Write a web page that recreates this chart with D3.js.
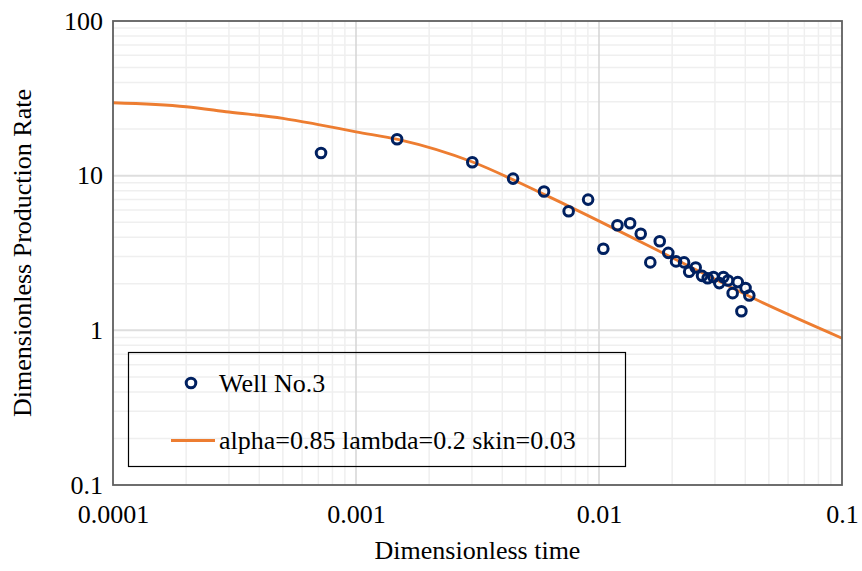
<!DOCTYPE html>
<html><head><meta charset="utf-8">
<script src="https://cdn.jsdelivr.net/npm/d3@7"></script>
<style>body{margin:0;background:#fff}svg{display:block}svg text{font-family:"Times New Roman","Liberation Serif","DejaVu Serif",serif !important;fill:#000}</style>
</head><body><svg id="c" width="862" height="571"></svg>
<script>
const xTickLabels = ["0.0001","0.001","0.01","0.1"];
const yTickLabels = ["0.1","1","10","100"];
const xTicks = [1e-4,1e-3,1e-2,1e-1];
const yTicks = [0.1,1,10,100];
const wellT = [7.18e-4,1.476e-3,3.01e-3,4.43e-3,5.94e-3,7.50e-3,9.02e-3,0.01042,0.01191,0.01343,0.01485,0.01626,0.01778,0.01928,0.02075,0.02239,0.0235,0.0250,0.02655,0.0280,0.02958,0.03126,0.0325,0.03396,0.03724,0.03548,0.03855,0.04009,0.04155];
const wellQ = [14.0,17.2,12.2,9.57,7.90,5.89,7.00,3.37,4.78,4.92,4.21,2.75,3.77,3.17,2.79,2.75,2.39,2.55,2.25,2.17,2.21,2.02,2.21,2.10,2.05,1.74,1.33,1.88,1.68];
const curveT = [1e-4,2e-4,3e-4,5e-4,7e-4,1e-3,1.5e-3,3e-3,5.7e-3,0.0237,0.0432,0.1];
const curveQ = [29.6,27.9,25.8,23.5,21.4,19.2,17.1,12.3,7.8,2.58,1.61,0.89];
const seriesNames = ["Well No.3","alpha=0.85 lambda=0.2 skin=0.03"];
const xTitle = "Dimensionless time", yTitle = "Dimensionless Production Rate";

const FONT = '"Times New Roman","Liberation Serif","DejaVu Serif",serif';
const svg = d3.select("#c");
const L=113, T=21, W=729, H=464;
const x = d3.scaleLog().domain([1e-4,0.1]).range([L,L+W]);
const y = d3.scaleLog().domain([0.1,100]).range([T+H,T]);
const g = svg.append("g");
const minors=[];
for(let e=-4;e<-1;e++) for(let m=2;m<=9;m++) minors.push(m*Math.pow(10,e));
const minorsY=[];
for(let e=-1;e<2;e++) for(let m=2;m<=9;m++) minorsY.push(m*Math.pow(10,e));
g.selectAll(".mx").data(minors).join("line").attr("x1",d=>x(d)).attr("x2",d=>x(d)).attr("y1",T).attr("y2",T+H).attr("stroke","#efefef").attr("stroke-width",1.5);
g.selectAll(".my").data(minorsY).join("line").attr("y1",d=>y(d)).attr("y2",d=>y(d)).attr("x1",L).attr("x2",L+W).attr("stroke","#efefef").attr("stroke-width",1.5);
g.selectAll(".Mx").data(xTicks.slice(1,3)).join("line").attr("x1",d=>x(d)).attr("x2",d=>x(d)).attr("y1",T).attr("y2",T+H).attr("stroke","#d4d4d4").attr("stroke-width",1.5);
g.selectAll(".My").data(yTicks.slice(1,3)).join("line").attr("y1",d=>y(d)).attr("y2",d=>y(d)).attr("x1",L).attr("x2",L+W).attr("stroke","#dedede").attr("stroke-width",2);

const xa = svg.append("g").attr("transform",`translate(0,${T+H})`).call(d3.axisBottom(x).tickValues(xTicks).tickFormat((d,i)=>xTickLabels[i]).tickSize(0).tickPadding(20));
xa.attr("font-family",FONT).attr("font-size",26);
xa.select(".domain").remove();
xa.selectAll("text").attr("font-size",26).style("font-family",FONT);
const ya = svg.append("g").attr("transform",`translate(${L},0)`).call(d3.axisLeft(y).tickValues(yTicks).tickFormat((d,i)=>yTickLabels[i]).tickSize(0).tickPadding(10));
ya.attr("font-family",FONT).attr("font-size",26);
ya.select(".domain").remove();
ya.selectAll("text").attr("font-size",26).style("font-family",FONT);

const line = d3.line().x((d,i)=>x(curveT[i])).y((d,i)=>y(curveQ[i])).curve(d3.curveMonotoneX);
svg.append("path").datum(curveT).attr("d",line).attr("fill","none").attr("stroke","#ED7D31").attr("stroke-width",2.8);

svg.selectAll(".pt").data(wellT).join("circle").attr("cx",d=>x(d)).attr("cy",(d,i)=>y(wellQ[i])).attr("r",4.8).attr("fill","none").attr("stroke","#002060").attr("stroke-width",3);

svg.append("rect").attr("x",L).attr("y",T).attr("width",W).attr("height",H).attr("fill","none").attr("stroke","#5f5f5f").attr("stroke-width",1.8);

svg.append("text").attr("x",L+W/2).attr("y",559).attr("text-anchor","middle").attr("font-size",26).style("font-family",FONT).text(xTitle);
svg.append("text").attr("transform",`translate(31,${T+H/2}) rotate(-90)`).attr("text-anchor","middle").attr("font-size",26).style("font-family",FONT).text(yTitle);

const lg = svg.append("g");
lg.append("rect").attr("x",128.5).attr("y",352.5).attr("width",497).attr("height",114).attr("fill","none").attr("stroke","#000").attr("stroke-width",1.2);
lg.append("circle").attr("cx",191).attr("cy",383).attr("r",4.8).attr("fill","none").attr("stroke","#002060").attr("stroke-width",3);
lg.append("text").attr("x",219).attr("y",392).attr("font-size",26).style("font-family",FONT).text(seriesNames[0]);
lg.append("line").attr("x1",171).attr("x2",215).attr("y1",440.5).attr("y2",440.5).attr("stroke","#ED7D31").attr("stroke-width",2.8);
lg.append("text").attr("x",219).attr("y",449).attr("font-size",26).style("font-family",FONT).text(seriesNames[1]);
</script></body></html>
